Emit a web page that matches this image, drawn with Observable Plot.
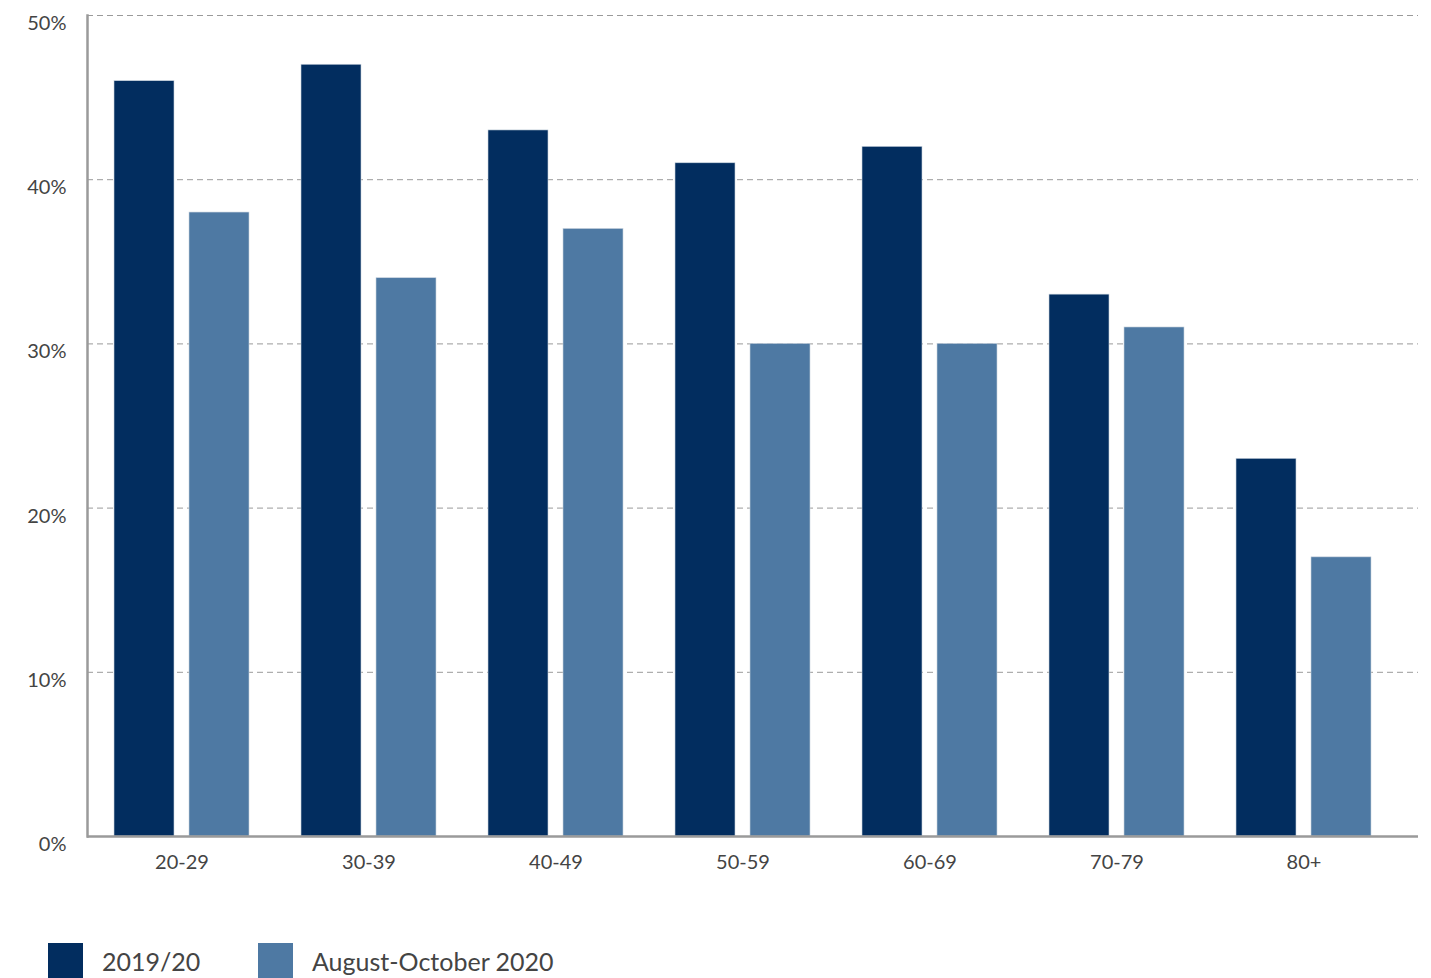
<!DOCTYPE html>
<html>
<head>
<meta charset="utf-8">
<script src="https://cdn.jsdelivr.net/npm/d3@7"></script>
<script src="https://cdn.jsdelivr.net/npm/@observablehq/plot@0.6"></script>
<style>
  html, body { margin: 0; padding: 0; background: #fff; }
  body { width: 1431px; height: 978px; overflow: hidden; font-family: Lato, "Open Sans", sans-serif; }
  #chart svg { display: block; }
  .legend { position: relative; height: 78px; }
  .legend .item { position: absolute; top: 43px; display: flex; align-items: center; }
  .legend .swatch { width: 35px; height: 36px; margin-right: 19px; }
  .legend .label { font-size: 25px; color: #444; line-height: 36px; }
</style>
</head>
<body>
<div id="chart"></div>
<div class="legend" id="legend"></div>
<script>
// Age groups along the x axis
const ages = ["20-29", "30-39", "40-49", "50-59", "60-69", "70-79", "80+"];
// Share (%) for each age group, one array per period
const share2019 = [46, 47, 43, 41, 42, 33, 23];
const shareAugOct2020 = [38, 34, 37, 30, 30, 31, 17];
const seriesNames = ["2019/20", "August-October 2020"];
const seriesColors = ["#022d5f", "#4e79a3"];
const yTicks = [0, 10, 20, 30, 40, 50];

const rowsA = ages.map((age, i) => ({age, value: share2019[i], series: seriesNames[0]}));
const rowsB = ages.map((age, i) => ({age, value: shareAugOct2020[i], series: seriesNames[1]}));

const W = 1431, H = 900;

const plot = Plot.plot({
  width: W,
  height: H,
  marginLeft: 87,
  marginRight: 13,
  marginTop: 15,
  marginBottom: 64,
  style: {fontFamily: "Lato, 'Open Sans', sans-serif", fontSize: "20px", color: "#444", background: "#fff"},
  x: {domain: ages, range: [86.5, 1399], paddingInner: 0.279, paddingOuter: 0.139, label: null},
  y: {domain: [0, 50], label: null},
  marks: [
    // dashed horizontal gridlines
    Plot.ruleY(yTicks.filter(d => d > 0), {stroke: "#9a9a9a", strokeWidth: 1, strokeDasharray: "6,4"}),
    // paired bars inside each age band
    Plot.barY(rowsA, {x: "age", y: "value", fill: seriesColors[0], insetRight: 75, stroke: "#c9d3de", strokeWidth: 0.6}),
    Plot.barY(rowsB, {x: "age", y: "value", fill: seriesColors[1], insetLeft: 75, stroke: "#c9d3de", strokeWidth: 0.6}),
    // axis lines
    Plot.ruleY([0], {stroke: "#9a9a9a", strokeWidth: 2.5}),
    Plot.axisX({tickSize: 0, tickPadding: 18, fontSize: 20, fill: "#444"}),
    Plot.axisY({ticks: yTicks, tickSize: 0, tickPadding: 21, dy: 8, tickFormat: d => d + "%", fontSize: 20, fill: "#444"}),
    Plot.frame({anchor: "left", stroke: "#9a9a9a", strokeWidth: 2.5})
  ]
});
document.getElementById("chart").appendChild(plot);

// Legend below the chart
const legend = document.getElementById("legend");
const legendX = [48, 258];
seriesNames.forEach((name, i) => {
  const item = document.createElement("div");
  item.className = "item";
  item.style.left = legendX[i] + "px";
  item.innerHTML = `<div class="swatch" style="background:${seriesColors[i]}"></div><div class="label">${name}</div>`;
  legend.appendChild(item);
});
</script>
</body>
</html>
